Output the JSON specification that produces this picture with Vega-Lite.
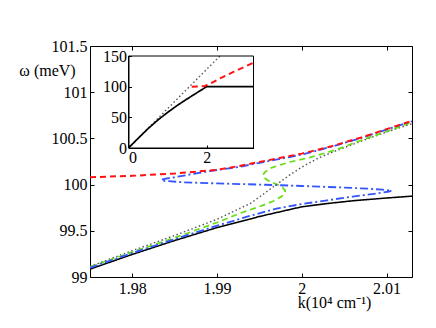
{
  "$schema": "https://vega.github.io/schema/vega-lite/v6.json",
  "width": 322,
  "height": 231,
  "autosize": "none",
  "padding": {"left": 90, "top": 46, "right": 24, "bottom": 51},
  "background": "white",
  "config": {
    "font": "Liberation Serif",
    "view": {"stroke": null},
    "axis": {
      "grid": false,
      "domainColor": "black",
      "tickColor": "black",
      "labelColor": "black",
      "titleColor": "black",
      "labelFont": "Liberation Serif",
      "titleFont": "Liberation Serif",
      "labelFontSize": 16,
      "titleFontSize": 16,
      "titleFontWeight": "normal",
      "tickSize": -4,
      "zindex": 1
    }
  },
  "datasets": {
    "main": [
      {"s": "d", "o": 1, "k": 1.975, "w": 99.115},
      {"s": "d", "o": 2, "k": 1.98, "w": 99.285},
      {"s": "d", "o": 3, "k": 1.985, "w": 99.45},
      {"s": "d", "o": 4, "k": 1.99, "w": 99.625},
      {"s": "d", "o": 5, "k": 1.994, "w": 99.8},
      {"s": "d", "o": 6, "k": 1.997, "w": 100.0},
      {"s": "d", "o": 7, "k": 1.9985, "w": 100.1},
      {"s": "d", "o": 8, "k": 2.0, "w": 100.19},
      {"s": "d", "o": 9, "k": 2.002, "w": 100.29},
      {"s": "d", "o": 10, "k": 2.004, "w": 100.365},
      {"s": "d", "o": 11, "k": 2.007, "w": 100.47},
      {"s": "d", "o": 12, "k": 2.01, "w": 100.57},
      {"s": "d", "o": 13, "k": 2.013, "w": 100.66},

      {"s": "b", "o": 1, "k": 1.975, "w": 99.085},
      {"s": "b", "o": 2, "k": 1.98, "w": 99.245},
      {"s": "b", "o": 3, "k": 1.985, "w": 99.395},
      {"s": "b", "o": 4, "k": 1.99, "w": 99.535},
      {"s": "b", "o": 5, "k": 1.995, "w": 99.655},
      {"s": "b", "o": 6, "k": 2.0, "w": 99.76},
      {"s": "b", "o": 7, "k": 2.003, "w": 99.795},
      {"s": "b", "o": 8, "k": 2.006, "w": 99.825},
      {"s": "b", "o": 9, "k": 2.01, "w": 99.855},
      {"s": "b", "o": 10, "k": 2.013, "w": 99.875},

      {"s": "g", "o": 1, "k": 1.975, "w": 99.11},
      {"s": "g", "o": 2, "k": 1.98, "w": 99.27},
      {"s": "g", "o": 3, "k": 1.985, "w": 99.425},
      {"s": "g", "o": 4, "k": 1.99, "w": 99.59},
      {"s": "g", "o": 5, "k": 1.9927, "w": 99.69},
      {"s": "g", "o": 6, "k": 1.9951, "w": 99.765},
      {"s": "g", "o": 7, "k": 1.9966, "w": 99.82},
      {"s": "g", "o": 8, "k": 1.9976, "w": 99.87},
      {"s": "g", "o": 9, "k": 1.998, "w": 99.91},
      {"s": "g", "o": 10, "k": 1.99805, "w": 99.935},
      {"s": "g", "o": 11, "k": 1.9977, "w": 99.97},
      {"s": "g", "o": 12, "k": 1.9972, "w": 99.995},
      {"s": "g", "o": 13, "k": 1.9966, "w": 100.02},
      {"s": "g", "o": 14, "k": 1.9959, "w": 100.05},
      {"s": "g", "o": 15, "k": 1.9955, "w": 100.08},
      {"s": "g", "o": 16, "k": 1.9954, "w": 100.1},
      {"s": "g", "o": 17, "k": 1.9956, "w": 100.13},
      {"s": "g", "o": 18, "k": 1.9962, "w": 100.175},
      {"s": "g", "o": 19, "k": 1.9975, "w": 100.215},
      {"s": "g", "o": 20, "k": 1.9986, "w": 100.245},
      {"s": "g", "o": 21, "k": 2.001, "w": 100.295},
      {"s": "g", "o": 22, "k": 2.004, "w": 100.375},
      {"s": "g", "o": 23, "k": 2.007, "w": 100.48},
      {"s": "g", "o": 24, "k": 2.01, "w": 100.575},
      {"s": "g", "o": 25, "k": 2.013, "w": 100.675},

      {"s": "bl", "o": 1, "k": 1.975, "w": 99.1},
      {"s": "bl", "o": 2, "k": 1.98, "w": 99.26},
      {"s": "bl", "o": 3, "k": 1.985, "w": 99.41},
      {"s": "bl", "o": 4, "k": 1.99, "w": 99.555},
      {"s": "bl", "o": 5, "k": 1.994, "w": 99.665},
      {"s": "bl", "o": 6, "k": 1.997, "w": 99.74},
      {"s": "bl", "o": 7, "k": 2.0, "w": 99.79},
      {"s": "bl", "o": 8, "k": 2.003, "w": 99.83},
      {"s": "bl", "o": 9, "k": 2.006, "w": 99.87},
      {"s": "bl", "o": 10, "k": 2.0085, "w": 99.9},
      {"s": "bl", "o": 11, "k": 2.0103, "w": 99.925},
      {"s": "bl", "o": 12, "k": 2.0106, "w": 99.935},
      {"s": "bl", "o": 13, "k": 2.0095, "w": 99.945},
      {"s": "bl", "o": 14, "k": 2.008, "w": 99.955},
      {"s": "bl", "o": 15, "k": 2.005, "w": 99.968},
      {"s": "bl", "o": 16, "k": 2.0, "w": 99.985},
      {"s": "bl", "o": 17, "k": 1.995, "w": 100.0},
      {"s": "bl", "o": 18, "k": 1.99, "w": 100.013},
      {"s": "bl", "o": 19, "k": 1.986, "w": 100.025},
      {"s": "bl", "o": 20, "k": 1.9838, "w": 100.04},
      {"s": "bl", "o": 21, "k": 1.9834, "w": 100.05},
      {"s": "bl", "o": 22, "k": 1.9838, "w": 100.062},
      {"s": "bl", "o": 23, "k": 1.985, "w": 100.08},
      {"s": "bl", "o": 24, "k": 1.989, "w": 100.145},
      {"s": "bl", "o": 25, "k": 1.9925, "w": 100.19},
      {"s": "bl", "o": 26, "k": 1.995, "w": 100.235},
      {"s": "bl", "o": 27, "k": 1.9975, "w": 100.28},
      {"s": "bl", "o": 28, "k": 2.0, "w": 100.325},
      {"s": "bl", "o": 29, "k": 2.0035, "w": 100.41},
      {"s": "bl", "o": 30, "k": 2.007, "w": 100.505},
      {"s": "bl", "o": 31, "k": 2.01, "w": 100.595},
      {"s": "bl", "o": 32, "k": 2.013, "w": 100.685},

      {"s": "r", "o": 1, "k": 1.975, "w": 100.08},
      {"s": "r", "o": 2, "k": 1.98, "w": 100.095},
      {"s": "r", "o": 3, "k": 1.985, "w": 100.12},
      {"s": "r", "o": 4, "k": 1.99, "w": 100.16},
      {"s": "r", "o": 5, "k": 1.9925, "w": 100.2},
      {"s": "r", "o": 6, "k": 1.995, "w": 100.245},
      {"s": "r", "o": 7, "k": 1.9975, "w": 100.29},
      {"s": "r", "o": 8, "k": 2.0, "w": 100.335},
      {"s": "r", "o": 9, "k": 2.0035, "w": 100.415},
      {"s": "r", "o": 10, "k": 2.007, "w": 100.51},
      {"s": "r", "o": 11, "k": 2.01, "w": 100.6},
      {"s": "r", "o": 12, "k": 2.013, "w": 100.69}
    ],
    "inset": [
      {"s": "id", "o": 1, "k": 0, "w": 0},
      {"s": "id", "o": 2, "k": 2.34, "w": 150},
      {"s": "ib", "o": 1, "k": 0, "w": 0},
      {"s": "ib", "o": 2, "k": 0.25, "w": 16},
      {"s": "ib", "o": 3, "k": 0.5, "w": 31.5},
      {"s": "ib", "o": 4, "k": 0.75, "w": 45.5},
      {"s": "ib", "o": 5, "k": 1.0, "w": 58},
      {"s": "ib", "o": 6, "k": 1.25, "w": 69.5},
      {"s": "ib", "o": 7, "k": 1.5, "w": 80},
      {"s": "ib", "o": 8, "k": 1.75, "w": 90},
      {"s": "ib", "o": 9, "k": 2.0, "w": 100},
      {"s": "ib", "o": 10, "k": 3.2, "w": 100},
      {"s": "ir", "o": 1, "k": 1.62, "w": 100},
      {"s": "ir", "o": 2, "k": 1.8, "w": 100.2},
      {"s": "ir", "o": 3, "k": 1.95, "w": 101},
      {"s": "ir", "o": 4, "k": 2.05, "w": 103.5},
      {"s": "ir", "o": 5, "k": 2.2, "w": 108.5},
      {"s": "ir", "o": 6, "k": 2.34, "w": 113.5},
      {"s": "ir", "o": 7, "k": 2.7, "w": 124.5},
      {"s": "ir", "o": 8, "k": 3.2, "w": 139}
    ],
    "box": [
      {"x0": 0, "x1": 3.2, "y0": 0, "y1": 150}
    ]
  },
  "layer": [
    {
      "layer": [
        {
          "data": {"name": "main"},
          "mark": {"type": "line", "clip": true},
          "encoding": {
            "x": {
              "field": "k", "type": "quantitative",
              "scale": {"domain": [1.975, 2.013], "nice": false, "zero": false},
              "axis": {
                "orient": "bottom",
                "values": [1.98, 1.99, 2.0, 2.01],
                "format": "~g",
                "labelPadding": 7,
                "title": "k(10⁴ cm⁻¹)",
                "titleX": 244,
                "titleY": 30,
                "titleAnchor": null,
                "titleAlign": "center",
                "titleBaseline": "alphabetic"
              }
            },
            "y": {
              "field": "w", "type": "quantitative",
              "scale": {"domain": [99, 101.5], "nice": false, "zero": false},
              "axis": {
                "orient": "left",
                "values": [99, 99.5, 100, 100.5, 101, 101.5],
                "format": "~g",
                "labelPadding": 7,
                "title": "ω (meV)",
                "titleAngle": 0,
                "titleX": -43,
                "titleY": 29,
                "titleAlign": "center",
                "titleBaseline": "alphabetic"
              }
            },
            "color": {
              "field": "s", "type": "nominal", "legend": null,
              "scale": {"domain": ["d", "b", "g", "bl", "r"], "range": ["#555555", "#000000", "#66dd11", "#3355ff", "#ff1111"]}
            },
            "strokeDash": {
              "field": "s", "type": "nominal", "legend": null,
              "scale": {"domain": ["d", "b", "g", "bl", "r"], "range": [[1.5, 2.5], [1, 0], [6, 4], [8, 3, 2, 3], [6, 4]]}
            },
            "strokeWidth": {
              "field": "s", "type": "nominal", "legend": null,
              "scale": {"domain": ["d", "b", "g", "bl", "r"], "range": [1.4, 2, 2, 2, 2]}
            },
            "order": {"field": "o", "type": "quantitative"}
          }
        },
        {
          "data": {"name": "box"},
          "mark": {"type": "rule", "opacity": 0},
          "encoding": {
            "x": {
              "field": "x0", "type": "quantitative",
              "scale": {"domain": [1.975, 2.013], "nice": false, "zero": false},
              "axis": {"orient": "top", "values": [1.98, 1.99, 2.0, 2.01], "labels": false, "title": null}
            },
            "y": {
              "field": "y0", "type": "quantitative",
              "scale": {"domain": [99, 101.5], "nice": false, "zero": false},
              "axis": {"orient": "right", "values": [99, 99.5, 100, 100.5, 101, 101.5], "labels": false, "title": null}
            }
          }
        }
      ],
      "resolve": {"axis": {"x": "independent", "y": "independent"}}
    },
    {
      "layer": [
        {
          "data": {"name": "inset"},
          "mark": {"type": "line"},
          "encoding": {
            "x": {
              "field": "k", "type": "quantitative",
              "scale": {"domain": [0, 3.2], "range": [38.5, 163.5], "nice": false, "zero": false},
              "axis": {"orient": "bottom", "offset": -129, "values": [0, 2], "format": "d", "tickSize": -3, "labelPadding": 4, "title": null}
            },
            "y": {
              "field": "w", "type": "quantitative",
              "scale": {"domain": [0, 150], "range": [102, 10], "nice": false, "zero": false},
              "axis": {"orient": "left", "offset": -38.5, "values": [0, 50, 100, 150], "format": "d", "tickSize": -3, "labelPadding": 5, "title": null}
            },
            "color": {
              "field": "s", "type": "nominal", "legend": null,
              "scale": {"domain": ["id", "ib", "ir"], "range": ["#555555", "#000000", "#ff1111"]}
            },
            "strokeDash": {
              "field": "s", "type": "nominal", "legend": null,
              "scale": {"domain": ["id", "ib", "ir"], "range": [[1.5, 2.5], [1, 0], [6, 4]]}
            },
            "strokeWidth": {
              "field": "s", "type": "nominal", "legend": null,
              "scale": {"domain": ["id", "ib", "ir"], "range": [1.4, 2, 2]}
            },
            "order": {"field": "o", "type": "quantitative"}
          }
        },
        {
          "data": {"name": "box"},
          "mark": {"type": "rect", "filled": false, "stroke": "black", "strokeWidth": 1},
          "encoding": {
            "x": {"field": "x0", "type": "quantitative", "scale": {"domain": [0, 3.2], "range": [38.5, 163.5], "nice": false, "zero": false}},
            "x2": {"field": "x1"},
            "y": {"field": "y0", "type": "quantitative", "scale": {"domain": [0, 150], "range": [102, 10], "nice": false, "zero": false}},
            "y2": {"field": "y1"}
          }
        }
      ]
    }
  ],
  "resolve": {"scale": {"x": "independent", "y": "independent", "color": "independent", "strokeDash": "independent", "strokeWidth": "independent"}}
}
